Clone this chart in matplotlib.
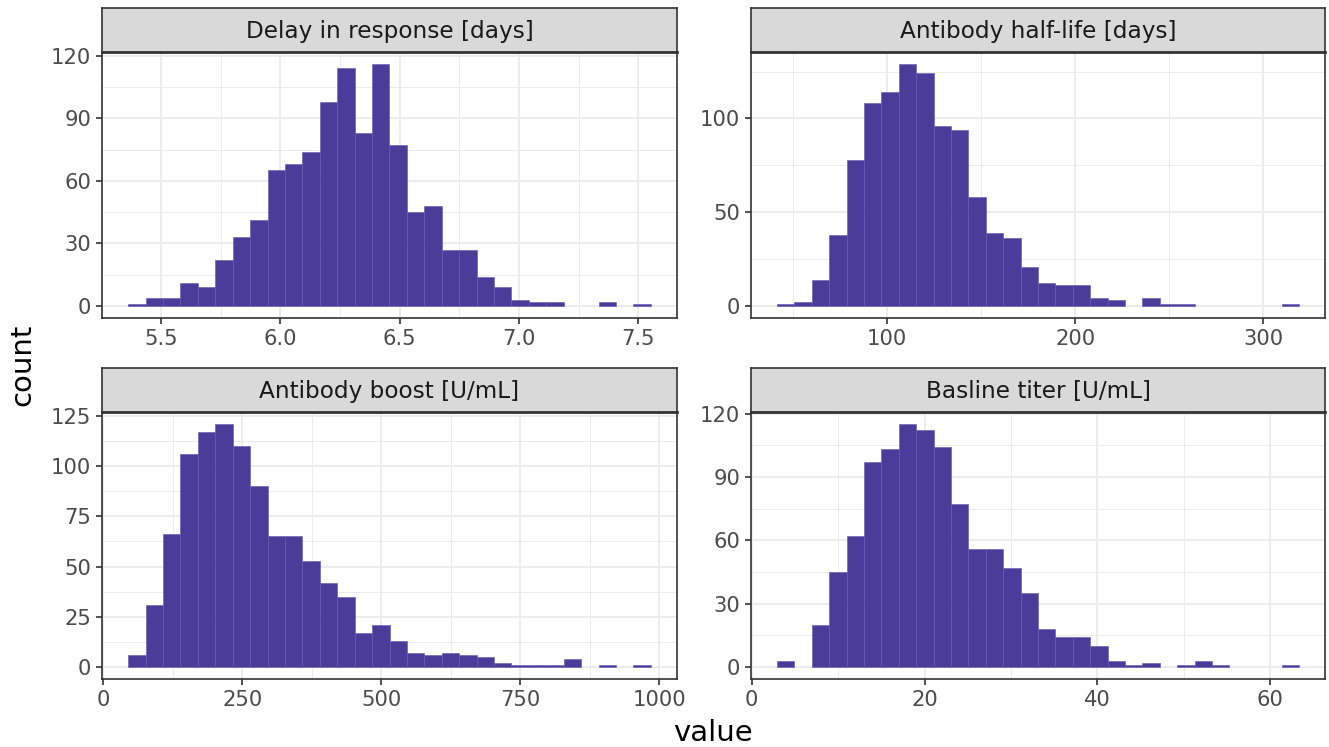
import numpy as np
import matplotlib.pyplot as plt
from matplotlib.ticker import MultipleLocator

# facet titles
titles = ["Delay in response [days]", "Antibody half-life [days]",
          "Antibody boost [U/mL]", "Basline titer [U/mL]"]

# 30 bins per panel: first / last bin edge, counts
delay_range = (5.362, 7.553)
delay_counts = [1, 4, 4, 11, 9, 22, 33, 41, 65, 68, 74, 98, 114, 83, 116,
                77, 45, 48, 27, 27, 14, 9, 3, 2, 2, 0, 0, 2, 0, 1]

halflife_range = (41.4, 319.0)
halflife_counts = [1, 2, 14, 38, 78, 108, 114, 129, 124, 96, 94, 58, 39, 36, 21,
                   12, 11, 11, 4, 3, 0, 4, 1, 1, 0, 0, 0, 0, 0, 1]

boost_range = (45.0, 985.0)
boost_counts = [6, 31, 66, 106, 117, 121, 110, 90, 65, 65, 53, 42, 35, 17, 21,
                13, 7, 6, 7, 6, 5, 2, 1, 1, 1, 4, 0, 1, 0, 1]

titer_range = (2.95, 63.3)
titer_counts = [3, 0, 20, 45, 62, 97, 103, 115, 112, 104, 77, 56, 56, 47, 35,
                18, 14, 14, 10, 3, 1, 2, 0, 1, 3, 1, 0, 0, 0, 1]

# tick steps (major, minor) for x and y
x_steps = [(0.5, 0.25), (100, 50), (250, 125), (20, 10)]
y_steps = [(30, 15), (50, 25), (25, 12.5), (30, 15)]

ranges = [delay_range, halflife_range, boost_range, titer_range]
counts = [delay_counts, halflife_counts, boost_counts, titer_counts]

W, H = 1329, 747
fig = plt.figure(figsize=(W / 100, H / 100), dpi=100)

def px_axes(l, t, r, b):
    return fig.add_axes([l / W, 1 - b / H, (r - l) / W, (b - t) / H])

# pixel boxes of the panels (left, top, right, bottom)
boxes = [(102, 52, 677, 318), (751, 52, 1325, 318),
         (102, 412, 677, 679), (751, 412, 1325, 679)]
strip_h = 44

bar_col = "#4A3C98"
dark = "#333333"

for i in range(4):
    l, t, r, b = boxes[i]
    ax = px_axes(l, t, r, b)
    lo, hi = ranges[i]
    edges = np.linspace(lo, hi, len(counts[i]) + 1)
    c = np.array(counts[i])
    keep = c > 0  # empty bins draw nothing
    ax.bar(edges[:-1][keep], c[keep], width=np.diff(edges)[keep], align="edge",
           color=bar_col, edgecolor="#6356AE", linewidth=0.4, zorder=2)

    span = hi - lo
    ax.set_xlim(lo - 0.05 * span, hi + 0.05 * span)
    ymax = c.max()
    ax.set_ylim(-0.05 * ymax, ymax * 1.05)

    ax.xaxis.set_major_locator(MultipleLocator(x_steps[i][0]))
    ax.xaxis.set_minor_locator(MultipleLocator(x_steps[i][1]))
    ax.yaxis.set_major_locator(MultipleLocator(y_steps[i][0]))
    ax.yaxis.set_minor_locator(MultipleLocator(y_steps[i][1]))
    ax.set_axisbelow(True)
    ax.grid(which="major", color="#EBEBEB", linewidth=1.3)
    ax.grid(which="minor", color="#EBEBEB", linewidth=0.7)
    ax.tick_params(which="major", length=4.3, width=1.2, color=dark,
                   labelsize=15.2, labelcolor="#4D4D4D", pad=3.5)
    ax.tick_params(which="minor", length=0)
    for s in ax.spines.values():
        s.set_color(dark)
        s.set_linewidth(1.2)

    # facet strip
    sa = px_axes(l, t - strip_h, r, t)
    sa.set_facecolor("#D9D9D9")
    sa.set_xticks([])
    sa.set_yticks([])
    for s in sa.spines.values():
        s.set_color(dark)
        s.set_linewidth(1.2)
    sa.spines["bottom"].set_linewidth(2)
    sa.text(0.5, 0.47, titles[i], ha="center", va="center",
            fontsize=16.7, color="#1A1A1A", transform=sa.transAxes)

fig.text(713 / W, 1 - 733 / H, "value", ha="center", va="center", fontsize=21)
fig.text(22 / W, 1 - 365 / H, "count", ha="center", va="center",
         fontsize=21, rotation=90)

fig.savefig("out.png", dpi=100)
